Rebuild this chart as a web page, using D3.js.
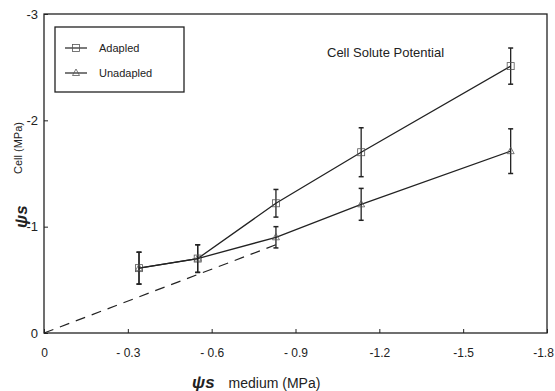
<!DOCTYPE html>
<html><head><meta charset="utf-8">
<script src="https://cdn.jsdelivr.net/npm/d3@7"></script>
<style>body{margin:0;background:#fff}svg{display:block}text{font-family:"Liberation Sans",Arial,sans-serif;fill:#222}</style>
</head><body>
<script>
const xMedium = [0.34, 0.55, 0.83, 1.135, 1.67];
const adapted = [0.61, 0.70, 1.22, 1.70, 2.51];
const adaptedErr = [0.15, 0.13, 0.13, 0.23, 0.17];
const unadapted = [0.61, 0.70, 0.90, 1.21, 1.71];
const unadaptedErr = [0.15, 0.13, 0.10, 0.15, 0.21];
const xTicks = [0, 0.3, 0.6, 0.9, 1.2, 1.5, 1.8];
const xTickLabels = ["0", "- 0.3", "- 0.6", "- 0.9", "-1.2", "-1.5", "-1.8"];
const yTicks = [0, 1, 2, 3];
const yTickLabels = ["0", "-1", "-2", "-3"];
const refLine = [0, 0.83];

const W = 555, H = 391;
const svg = d3.select("body").append("svg").attr("width", W).attr("height", H);
const x = d3.scaleLinear().domain([0, 1.8]).range([44, 547]);
const y = d3.scaleLinear().domain([0, 3]).range([333, 14]);
const ink = "#222";

// frame
svg.append("rect").attr("x", x(0)).attr("y", y(3)).attr("width", x(1.8) - x(0)).attr("height", y(0) - y(3))
  .attr("fill", "none").attr("stroke", ink).attr("stroke-width", 1.3);

// x axis ticks (inward)
const xa = svg.append("g").attr("transform", `translate(0,${y(0)})`)
  .call(d3.axisBottom(x).tickValues(xTicks).tickSizeInner(-4).tickSizeOuter(0).tickPadding(15)
    .tickFormat((d, i) => xTickLabels[i]));
xa.select(".domain").remove();
xa.selectAll("line").attr("stroke", ink);
xa.selectAll("text").attr("font-size", 12).attr("fill", ink).style("font-family", "Liberation Sans, Arial, sans-serif")
  .attr("dx", (d, i) => i === xTicks.length - 1 ? -4 : 0);

const ya = svg.append("g").attr("transform", `translate(${x(0)},0)`)
  .call(d3.axisLeft(y).tickValues(yTicks).tickSizeInner(-4).tickSizeOuter(0).tickPadding(6)
    .tickFormat((d, i) => yTickLabels[i]));
ya.select(".domain").remove();
ya.selectAll("line").attr("stroke", ink);
ya.selectAll("text").attr("font-size", 13).attr("fill", ink).style("font-family", "Liberation Sans, Arial, sans-serif");

// dashed reference line
svg.append("line").attr("x1", x(refLine[0])).attr("y1", y(refLine[0])).attr("x2", x(refLine[1])).attr("y2", y(refLine[1]))
  .attr("stroke", ink).attr("stroke-width", 1.2).attr("stroke-dasharray", "10,7");

const line = d3.line().x(d => x(d[0])).y(d => y(d[1]));
function series(vals, errs, marker) {
  const pts = xMedium.map((v, i) => [v, vals[i]]);
  svg.append("path").attr("d", line(pts)).attr("fill", "none").attr("stroke", ink).attr("stroke-width", 1.3);
  const g = svg.append("g");
  pts.forEach((p, i) => {
    const cx = x(p[0]);
    g.append("line").attr("x1", cx).attr("x2", cx).attr("y1", y(p[1] + errs[i])).attr("y2", y(p[1] - errs[i]))
      .attr("stroke", ink).attr("stroke-width", 1.3);
    [p[1] + errs[i], p[1] - errs[i]].forEach(e => g.append("line").attr("x1", cx - 2.5).attr("x2", cx + 2.5)
      .attr("y1", y(e)).attr("y2", y(e)).attr("stroke", ink).attr("stroke-width", 1.5));
    marker(g, cx, y(p[1]));
  });
}
const square = (g, cx, cy) => g.append("rect").attr("x", cx - 3.5).attr("y", cy - 3.5).attr("width", 7).attr("height", 7)
  .attr("fill", "none").attr("stroke", "#555").attr("stroke-width", 0.8);
const tri = (g, cx, cy) => g.append("path").attr("d", `M${cx},${cy - 4}L${cx + 3.5},${cy + 2.5}L${cx - 3.5},${cy + 2.5}Z`)
  .attr("fill", "none").attr("stroke", "#555").attr("stroke-width", 0.8);
series(adapted, adaptedErr, square);
series(unadapted, unadaptedErr, tri);

// legend
svg.append("rect").attr("x", 55).attr("y", 27).attr("width", 129).attr("height", 65)
  .attr("fill", "none").attr("stroke", ink).attr("stroke-width", 1.3);
[["Adapled", square, 48], ["Unadapled", tri, 73]].forEach(([t, m, ly]) => {
  svg.append("line").attr("x1", 65).attr("x2", 87).attr("y1", ly).attr("y2", ly).attr("stroke", ink).attr("stroke-width", 1.2);
  m(svg, 76, ly);
  svg.append("text").attr("x", 99).attr("y", ly + 4).attr("font-size", 11).text(t);
});

// title
svg.append("text").attr("x", 327).attr("y", 57).attr("font-size", 13).text("Cell Solute Potential");

// x label
const xl = svg.append("text").attr("x", 192).attr("y", 388).attr("font-size", 14);
xl.append("tspan").attr("font-style", "italic").attr("font-weight", "bold").attr("font-size", 17).text("ψs");
xl.append("tspan").attr("dx", 14).text("medium (MPa)");

// y label
svg.append("text").attr("transform", "translate(27,228) rotate(-90)").attr("font-size", 17)
  .attr("font-style", "italic").attr("font-weight", "bold").text("ψs");
svg.append("text").attr("transform", "translate(22,148) rotate(-90)").attr("text-anchor", "middle")
  .attr("font-size", 11).text("Cell (MPa)");
</script>
</body></html>
